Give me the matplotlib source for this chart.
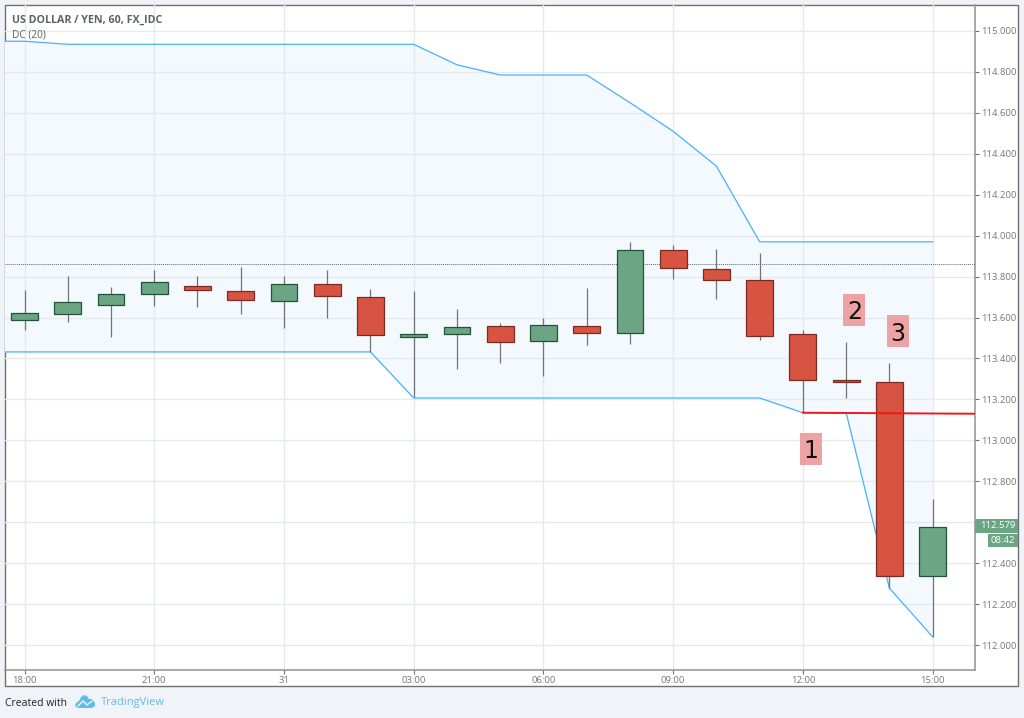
import numpy as np
import matplotlib
matplotlib.use('Agg')
import matplotlib.pyplot as plt
from matplotlib.patches import Rectangle, Polygon
from matplotlib.lines import Line2D

plt.rcParams['font.family'] = ['Open Sans', 'DejaVu Sans']

W, H = 1024, 718

opens = [113.588, 113.617, 113.661, 113.715, 113.754, 113.730, 113.681, 113.764,
         113.700, 113.505, 113.520, 113.559, 113.485, 113.559, 113.524, 113.930,
         113.837, 113.783, 113.520, 113.295, 113.285, 112.337]
closes = [113.622, 113.676, 113.715, 113.774, 113.735, 113.686, 113.764, 113.705,
          113.515, 113.520, 113.554, 113.480, 113.564, 113.524, 113.930, 113.840,
          113.783, 113.510, 113.295, 113.285, 112.337, 112.579]
highs = [113.735, 113.803, 113.749, 113.832, 113.803, 113.847, 113.803, 113.832,
         113.740, 113.730, 113.642, 113.573, 113.598, 113.744, 113.969, 113.954,
         113.935, 113.915, 113.539, 113.480, 113.378, 112.713]
lows = [113.539, 113.578, 113.505, 113.656, 113.651, 113.617, 113.549, 113.598,
        113.432, 113.210, 113.349, 113.378, 113.314, 113.466, 113.470, 113.790,
        113.690, 113.490, 113.138, 113.207, 112.278, 112.040]

# channel starts one bar before the first candle
dc_upper = [114.950, 114.950, 114.935, 114.935, 114.935, 114.935, 114.935, 114.935,
            114.935, 114.935, 114.935, 114.835, 114.785, 114.785, 114.785, 114.650,
            114.510, 114.340, 113.970, 113.970, 113.970, 113.970, 113.970]
dc_lower = [113.432, 113.432, 113.432, 113.432, 113.432, 113.432, 113.432, 113.432,
            113.432, 113.432, 113.207, 113.207, 113.207, 113.207, 113.207, 113.207,
            113.207, 113.207, 113.207, 113.135, 113.135, 112.278, 112.040]

time_ticks = [0, 3, 6, 9, 12, 15, 18, 21]
time_labels = ['18:00', '21:00', '31', '03:00', '06:00', '09:00', '12:00', '15:00']
price_ticks = [112.0, 112.2, 112.4, 112.6, 112.8, 113.0, 113.2, 113.4, 113.6, 113.8,
               114.0, 114.2, 114.4, 114.6, 114.8, 115.0]
hidden_tick = 112.6
last_price = 112.579
countdown = '08:42'
dotted_level = 113.86
red_line = [113.135, 113.13]
notes = ['1', '2', '3']
note_x = [18.19, 19.19, 20.19]
note_y = [112.958, 113.639, 113.532]

UP = '#6ba583'
UP_EDGE = '#225437'
DOWN = '#d75442'
DOWN_EDGE = '#7b2b20'
WICK = '#737375'
DC_LINE = '#45b2fa'
TICK = '#74777c'
GRID = '#e6e9ee'
LOGO = '#5fbde8'


def fig_x(px):
    return px / W


def fig_y(py):
    return 1 - py / H


fig = plt.figure(figsize=(W / 100, H / 100), dpi=100, facecolor='#f0f3f7')

# outer chart frame, has to stay under the axes
fig.add_artist(Rectangle((fig_x(5), fig_y(686)), (1018 - 5) / W, (686 - 5) / H,
                         transform=fig.transFigure, facecolor='white',
                         edgecolor='#707070', linewidth=1, zorder=-1))

ax = fig.add_axes([fig_x(5), fig_y(670), (975 - 5) / W, (670 - 5) / H])
ax.patch.set_alpha(0)
x_left, x_right = -0.451, 21.98
ax.set_xlim(x_left, x_right)
ax.set_ylim(111.878, 115.127)

bars = np.arange(len(opens))
dc_x = np.arange(-1, len(opens))

ax.set_xticks(time_ticks)
ax.set_xticklabels(time_labels)
ax.set_yticks(price_ticks)
ax.set_yticklabels(['' if p == hidden_tick else f'{p:.3f}' for p in price_ticks])
ax.yaxis.tick_right()
ax.tick_params(axis='both', length=3, width=0.8, color='#707070', labelcolor=TICK,
               labelsize=6.8, pad=1.5)
# grid sits on top of the channel fill but under the candles
ax.set_axisbelow('line')
ax.grid(True, color=GRID, linewidth=1)
ax.spines['top'].set_visible(False)
ax.spines['left'].set_visible(False)
for side in ['right', 'bottom']:
    ax.spines[side].set_color('#9a9a9a')
    ax.spines[side].set_linewidth(1.2)

ax.fill_between(dc_x, dc_lower, dc_upper, color='#f3f9fe', linewidth=0, zorder=1)
ax.plot(dc_x, dc_upper, color=DC_LINE, linewidth=0.9, zorder=3)
ax.plot(dc_x, dc_lower, color=DC_LINE, linewidth=0.9, zorder=3)

ax.axhline(dotted_level, color='#666666', linewidth=0.7, linestyle=(0, (1, 1)), zorder=3)

for i in bars:
    up = closes[i] >= opens[i]
    ax.vlines(i, lows[i], highs[i], color=WICK, linewidth=0.9, zorder=4)
    ax.bar(i, abs(closes[i] - opens[i]), bottom=min(opens[i], closes[i]), width=0.62,
           color=UP if up else DOWN, edgecolor=UP_EDGE if up else DOWN_EDGE,
           linewidth=0.9, zorder=5)

ax.plot([18, x_right], red_line, color='#f01818', linewidth=1.4, zorder=6)

for label, nx, ny in zip(notes, note_x, note_y):
    ax.add_patch(Rectangle((nx - 0.255, ny - 0.078), 0.51, 0.156, facecolor='#eda3a3',
                           edgecolor='none', zorder=7))
    ax.text(nx, ny, label, fontsize=17, color='#111111', ha='center', va='center_baseline',
            zorder=8, family=['DejaVu Sans'])

fig.text(fig_x(12), fig_y(20), 'US DOLLAR / YEN, 60, FX_IDC', fontsize=7.65, fontweight='bold',
         color='#5d6065', va='center')
fig.text(fig_x(12), fig_y(35), 'DC (20)', fontsize=7.3, color='#5d6065', va='center')

# price and countdown tags on the scale
fig.add_artist(Rectangle((fig_x(975), fig_y(533)), 43 / W, 14 / H, transform=fig.transFigure,
                         facecolor=UP, edgecolor='none'))
fig.add_artist(Rectangle((fig_x(988), fig_y(547)), 30 / W, 13 / H, transform=fig.transFigure,
                         facecolor=UP, edgecolor='none'))
fig.text(fig_x(998), fig_y(526), f'{last_price:.3f}', fontsize=6.8, color='white',
         ha='center', va='center')
fig.text(fig_x(1003), fig_y(540.5), countdown, fontsize=6.8, color='white',
         ha='center', va='center')

# footer
fig.text(fig_x(5), fig_y(703), 'Created with', fontsize=7.5, color='#222222', va='center')
fig.add_artist(Polygon([(fig_x(px), fig_y(py)) for px, py in
                        [(75, 706), (76, 703), (79, 701), (81, 697), (84, 695), (87, 696),
                         (89, 699), (92, 699), (95, 703), (95, 706), (92, 708), (78, 708)]],
                       closed=True, transform=fig.transFigure, facecolor=LOGO,
                       edgecolor='none'))
fig.add_artist(Line2D([fig_x(px) for px in (78, 83, 87, 92)],
                      [fig_y(py) for py in (706, 701, 705, 701)],
                      transform=fig.transFigure, color='#f0f3f7', linewidth=1))
fig.text(fig_x(101), fig_y(703), 'TradingView', fontsize=8, color=LOGO, va='center')

fig.savefig('out.png', dpi=100, facecolor=fig.get_facecolor())
